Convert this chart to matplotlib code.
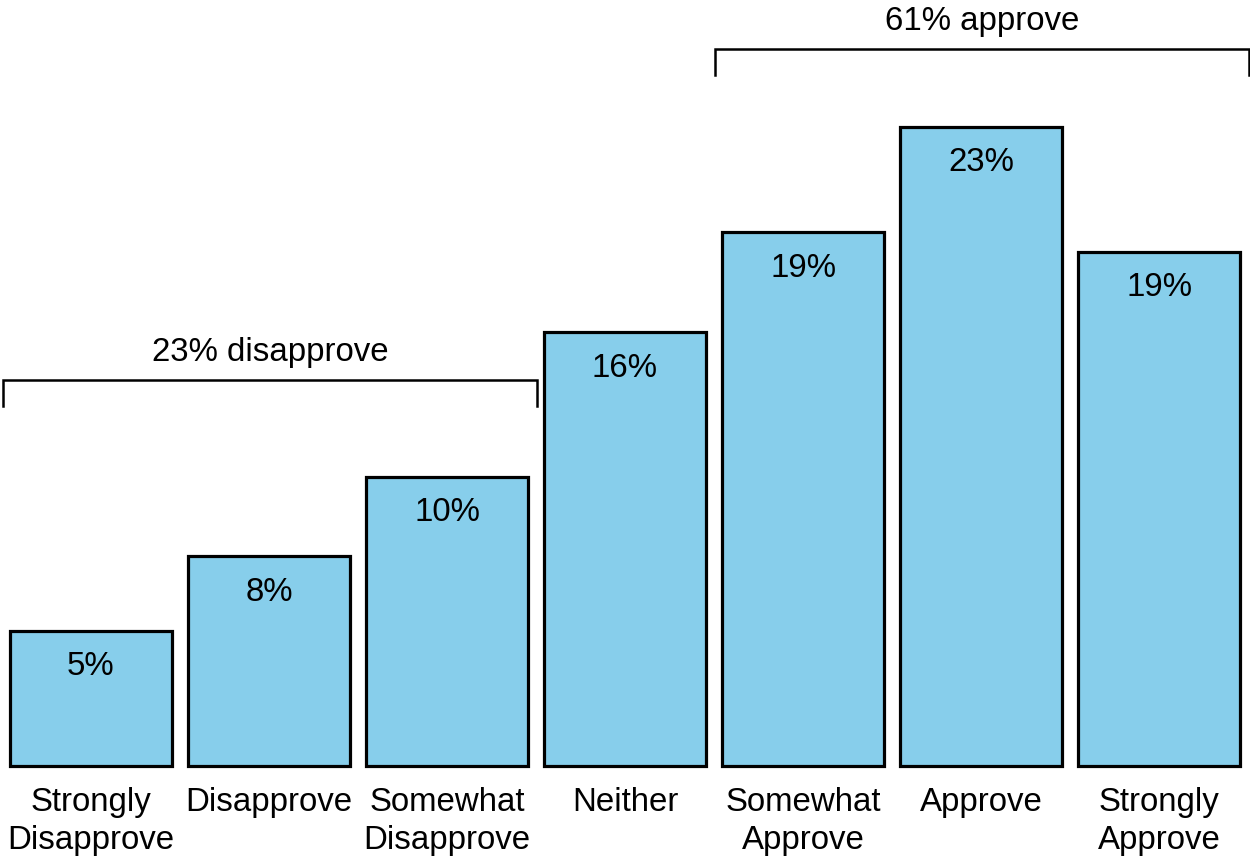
import matplotlib
matplotlib.use("Agg")
import matplotlib.pyplot as plt

categories = ["Strongly\nDisapprove", "Disapprove", "Somewhat\nDisapprove", "Neither",
              "Somewhat\nApprove", "Approve", "Strongly\nApprove"]
values = [4.86, 7.55, 10.4, 15.6, 19.2, 23.0, 18.5]
value_labels = ["5%", "8%", "10%", "16%", "19%", "23%", "19%"]
group_labels = ["23% disapprove", "61% approve"]
group_spans = [(0, 2), (4, 6)]

plt.rcParams['font.family'] = ['Liberation Sans', 'DejaVu Sans']
FS = 23.8

fig = plt.figure(figsize=(12.5, 8.58), dpi=100)
ax = fig.add_axes([0, 0, 1, 1])
ax.set_xlim(-0.511, 6.511)
ax.set_ylim(-3.31, 27.55)
ax.axis('off')

x = list(range(len(values)))
bars = ax.bar(x, values, width=0.905, color='#87CEEB', edgecolor='black', linewidth=2.3)

for xi, v, lab in zip(x, values, value_labels):
    ax.annotate(lab, (xi, v), xytext=(0, -26), textcoords='offset points',
                ha='center', va='center', fontsize=FS)

for xi, cat in zip(x, categories):
    ax.text(xi, -0.76, cat, ha='center', va='top', fontsize=FS, linespacing=1.3)

# brackets
bracket_y = [13.88, 25.79]
tick_len = 0.93
text_off = 1.0
for (a, b), lab, by in zip(group_spans, group_labels, bracket_y):
    x0 = a - 0.5 + 0.005
    x1 = b + 0.5 + 0.006
    ax.plot([x0, x0, x1, x1], [by - tick_len, by, by, by - tick_len],
            color='black', linewidth=1.8, solid_joinstyle='miter', clip_on=False)
    ax.text((x0 + x1) / 2, by + text_off, lab, ha='center', va='center', fontsize=FS)

fig.savefig("out.png", dpi=100)
